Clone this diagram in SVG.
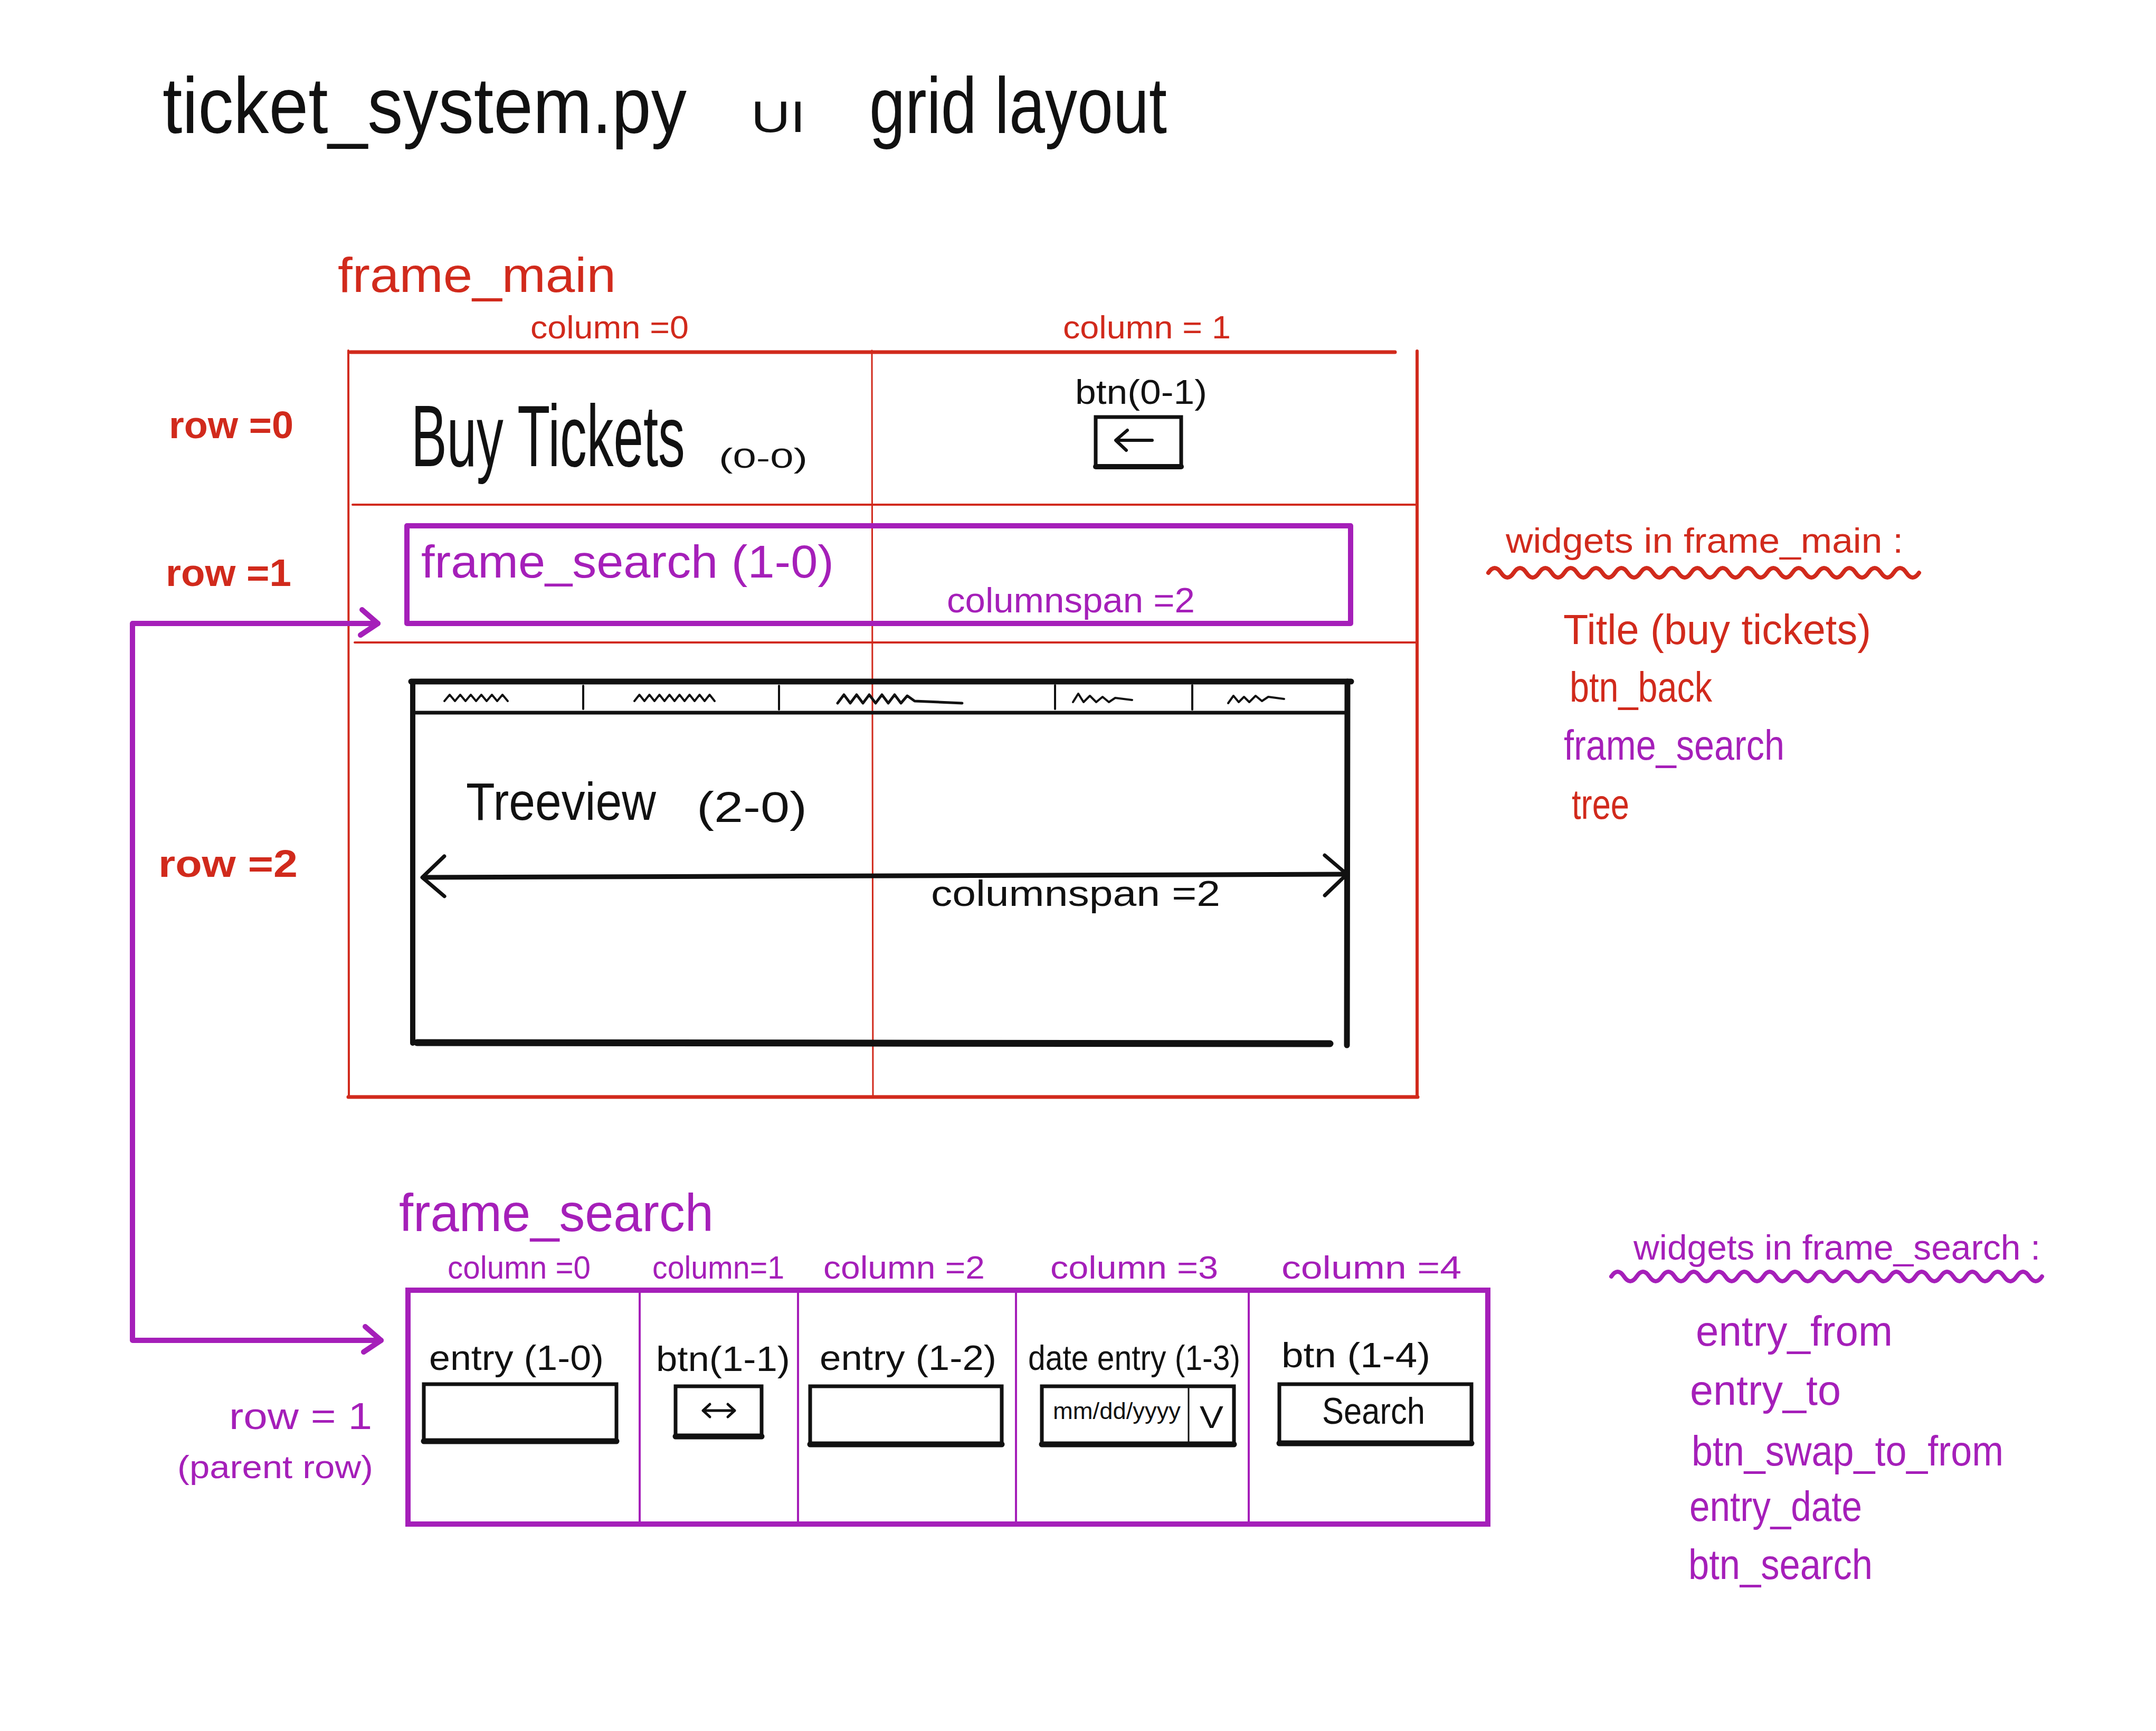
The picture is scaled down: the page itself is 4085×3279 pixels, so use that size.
<svg xmlns="http://www.w3.org/2000/svg" width="4085" height="3279" viewBox="0 0 4085 3279">
<style>
text{font-family:"Liberation Sans",Arial,sans-serif}
.r{fill:#d12a1c}
.p{fill:#a51fb9}
.k{fill:#111111}
.b{font-weight:bold}
.lr{stroke:#d12a1c;fill:none;stroke-linecap:round}
.lp{stroke:#a51fb9;fill:none;stroke-linecap:round;stroke-linejoin:round}
.lk{stroke:#111111;fill:none;stroke-linecap:round;stroke-linejoin:round}
</style>
<defs>
<marker id="chev-p" markerUnits="userSpaceOnUse" viewBox="-50 -40 60 80" refX="0" refY="0" markerWidth="60" markerHeight="80" orient="auto-start-reverse" overflow="visible">
<path d="M-30,-26 L0,0 L-33,22" fill="none" stroke="#a51fb9" stroke-width="10" stroke-linecap="round" stroke-linejoin="round"/>
</marker>
<marker id="chev-k" markerUnits="userSpaceOnUse" viewBox="-50 -55 60 110" refX="0" refY="0" markerWidth="60" markerHeight="110" orient="auto-start-reverse" overflow="visible">
<path d="M-42,-36 L0,0 L-42,40" fill="none" stroke="#111111" stroke-width="7" stroke-linecap="round" stroke-linejoin="round"/>
</marker>
</defs>
<rect x="0" y="0" width="4085" height="3279" fill="#ffffff"/>

<g id="title">
<text class="k" x="308" y="252" font-size="150" textLength="993" lengthAdjust="spacingAndGlyphs">ticket_system.py</text>
<text class="k" x="1423" y="250" font-size="84" textLength="103" lengthAdjust="spacingAndGlyphs">UI</text>
<text class="k" x="1647" y="252" font-size="150" textLength="564" lengthAdjust="spacingAndGlyphs">grid layout</text>
</g>

<g id="frame-main">
<text class="r" x="640" y="553" font-size="92" textLength="527" lengthAdjust="spacingAndGlyphs">frame_main</text>
<text class="r" x="1005" y="641" font-size="62" textLength="300" lengthAdjust="spacingAndGlyphs">column =0</text>
<text class="r" x="2014" y="641" font-size="62" textLength="318" lengthAdjust="spacingAndGlyphs">column = 1</text>
<line class="lr" x1="664" y1="667" x2="2643" y2="667" stroke-width="7"/>
<line class="lr" x1="660" y1="664" x2="661" y2="2078" stroke-width="4"/>
<line class="lr" x1="2685" y1="665" x2="2685" y2="2078" stroke-width="6"/>
<line class="lr" x1="660" y1="2078" x2="2686" y2="2078" stroke-width="7"/>
<line class="lr" x1="1652" y1="664" x2="1654" y2="2078" stroke-width="3"/>
<line class="lr" x1="668" y1="956" x2="2685" y2="956" stroke-width="4"/>
<line class="lr" x1="672" y1="1217" x2="2685" y2="1217" stroke-width="4"/>
<text class="r b" x="320" y="830" font-size="72" textLength="236" lengthAdjust="spacingAndGlyphs">row =0</text>
<text class="r b" x="314" y="1110" font-size="72" textLength="238" lengthAdjust="spacingAndGlyphs">row =1</text>
<text class="r b" x="300" y="1661" font-size="72" textLength="264" lengthAdjust="spacingAndGlyphs">row =2</text>
</g>

<g id="buy-tickets">
<text class="k" transform="translate(779 883) scale(0.615 1)" font-size="165">Buy Tickets</text>
<text class="k" x="1362" y="886" font-size="52" textLength="168" lengthAdjust="spacingAndGlyphs">(0-0)</text>
</g>

<g id="btn-back">
<text class="k" x="2037" y="765" font-size="64" textLength="250" lengthAdjust="spacingAndGlyphs">btn(0-1)</text>
<rect x="2076" y="790" width="162" height="94" fill="none" stroke="#111111" stroke-width="7"/>
<line class="lk" x1="2076" y1="884" x2="2238" y2="884" stroke-width="10"/>
<path class="lk" d="M2183 834 H2116 M2136 815 L2114 834 L2134 853" stroke-width="6"/>
</g>

<g id="frame-search-cell">
<rect x="771" y="996" width="1788" height="185" fill="none" stroke="#a51fb9" stroke-width="10" stroke-linejoin="round"/>
<text class="p" x="798" y="1094" font-size="88" textLength="782" lengthAdjust="spacingAndGlyphs">frame_search (1-0)</text>
<text class="p" x="1794" y="1160" font-size="66" textLength="470" lengthAdjust="spacingAndGlyphs">columnspan =2</text>
</g>

<g id="treeview">
<line class="lk" x1="779" y1="1291" x2="2560" y2="1291" stroke-width="11"/>
<line class="lk" x1="788" y1="1350" x2="2552" y2="1350" stroke-width="7"/>
<line class="lk" x1="782" y1="1291" x2="782" y2="1976" stroke-width="10"/>
<line class="lk" x1="2553" y1="1291" x2="2552" y2="1980" stroke-width="11"/>
<line class="lk" x1="790" y1="1975" x2="2520" y2="1977" stroke-width="13"/>
<path class="lk" d="M1105 1299 V1343 M1476 1299 V1344 M1999 1298 V1343 M2259 1298 V1344" stroke-width="4"/>
<path class="lk" stroke-width="4" d="M842 1328 l10 -12 l10 12 l10 -12 l10 12 l10 -12 l10 12 l10 -12 l10 12 l10 -12 l10 12 l10 -12 l10 12"/>
<path class="lk" stroke-width="4" d="M1202 1328 l9.5 -12 l9.5 12 l9.5 -12 l9.5 12 l9.5 -12 l9.5 12 l9.5 -12 l9.5 12 l9.5 -12 l9.5 12 l9.5 -12 l9.5 12 l9.5 -12 l9.5 12 l9.5 -12 l9.5 12"/>
<path class="lk" stroke-width="5" d="M1587 1332 l12 -16 l12 16 l12 -16 l12 16 l12 -16 l12 16 l12 -16 l12 16 l12 -16 l12 16 l12 -14 l14 10 l90 4"/>
<path class="lk" stroke-width="4" d="M2033 1330 l10 -16 l10 16 l12 -12 l12 12 l12 -10 l12 10 l12 -8 l32 4"/>
<path class="lk" stroke-width="4" d="M2327 1332 l10 -14 l10 12 l10 -10 l10 10 l12 -12 l12 10 l12 -8 l30 4"/>
<text class="k" x="883" y="1553" font-size="100" textLength="360" lengthAdjust="spacingAndGlyphs">Treeview</text>
<text class="k" x="1320" y="1557" font-size="82" textLength="209" lengthAdjust="spacingAndGlyphs">(2-0)</text>
<line x1="800" y1="1662" x2="2552" y2="1656" stroke="#111111" stroke-width="9" marker-start="url(#chev-k)" marker-end="url(#chev-k)"/>
<text class="k" x="1764" y="1716" font-size="68" textLength="548" lengthAdjust="spacingAndGlyphs">columnspan =2</text>
</g>

<g id="widgets-main-list">
<text class="r" x="2853" y="1047" font-size="66" textLength="753" lengthAdjust="spacingAndGlyphs">widgets in frame_main :</text>
<path class="lr" stroke-width="8" d="M2820 1085 q12 -18 24 0 t24 0 t24 0 t24 0 t24 0 t24 0 t24 0 t24 0 t24 0 t24 0 t24 0 t24 0 t24 0 t24 0 t24 0 t24 0 t24 0 t24 0 t24 0 t24 0 t24 0 t24 0 t24 0 t24 0 t24 0 t24 0 t24 0 t24 0 t24 0 t24 0 t24 0 t24 0 t24 0 t24 0"/>
<text class="r" x="2962" y="1220" font-size="80" textLength="583" lengthAdjust="spacingAndGlyphs">Title (buy tickets)</text>
<text class="r" x="2974" y="1329" font-size="80" textLength="270" lengthAdjust="spacingAndGlyphs">btn_back</text>
<text class="p" x="2963" y="1439" font-size="80" textLength="418" lengthAdjust="spacingAndGlyphs">frame_search</text>
<text class="r" x="2978" y="1551" font-size="80" textLength="109" lengthAdjust="spacingAndGlyphs">tree</text>
</g>

<g id="frame-search">
<text class="p" x="756" y="2332" font-size="100" textLength="596" lengthAdjust="spacingAndGlyphs">frame_search</text>
<text class="p" x="848" y="2422" font-size="62" textLength="271" lengthAdjust="spacingAndGlyphs">column =0</text>
<text class="p" x="1236" y="2422" font-size="62" textLength="250" lengthAdjust="spacingAndGlyphs">column=1</text>
<text class="p" x="1560" y="2422" font-size="62" textLength="306" lengthAdjust="spacingAndGlyphs">column =2</text>
<text class="p" x="1990" y="2422" font-size="62" textLength="318" lengthAdjust="spacingAndGlyphs">column =3</text>
<text class="p" x="2428" y="2422" font-size="62" textLength="341" lengthAdjust="spacingAndGlyphs">column =4</text>
<rect x="773" y="2444" width="2046" height="443" fill="none" stroke="#a51fb9" stroke-width="10"/>
<path class="lp" d="M1212 2444 V2887 M1512 2444 V2887 M1925 2444 V2887 M2366 2444 V2887" stroke-width="4"/>
</g>

<g id="entry-from">
<text class="k" x="813" y="2595" font-size="66" textLength="331" lengthAdjust="spacingAndGlyphs">entry (1-0)</text>
<rect x="803" y="2622" width="365" height="108" fill="none" stroke="#111111" stroke-width="7"/>
<line class="lk" x1="803" y1="2730" x2="1168" y2="2730" stroke-width="11"/>
</g>

<g id="btn-swap">
<text class="k" x="1243" y="2597" font-size="66" textLength="254" lengthAdjust="spacingAndGlyphs">btn(1-1)</text>
<rect x="1280" y="2626" width="163" height="95" fill="none" stroke="#111111" stroke-width="7"/>
<line class="lk" x1="1280" y1="2721" x2="1443" y2="2721" stroke-width="11"/>
<path class="lk" d="M1332 2672 H1392 M1345 2660 L1332 2672 L1345 2684 M1379 2660 L1392 2672 L1379 2684" stroke-width="5"/>
</g>

<g id="entry-to">
<text class="k" x="1553" y="2595" font-size="66" textLength="335" lengthAdjust="spacingAndGlyphs">entry (1-2)</text>
<rect x="1535" y="2626" width="363" height="110" fill="none" stroke="#111111" stroke-width="7"/>
<line class="lk" x1="1535" y1="2736" x2="1898" y2="2736" stroke-width="11"/>
</g>

<g id="date-entry">
<text class="k" x="1948" y="2595" font-size="66" textLength="402" lengthAdjust="spacingAndGlyphs">date entry (1-3)</text>
<rect x="1974" y="2626" width="364" height="110" fill="none" stroke="#111111" stroke-width="7"/>
<line class="lk" x1="1974" y1="2736" x2="2338" y2="2736" stroke-width="11"/>
<line class="lk" x1="2252" y1="2630" x2="2252" y2="2732" stroke-width="3"/>
<text class="k" x="1995" y="2688" font-size="45" textLength="242" lengthAdjust="spacingAndGlyphs">mm/dd/yyyy</text>
<text class="k" x="2273" y="2705" font-size="60" textLength="45" lengthAdjust="spacingAndGlyphs">V</text>
</g>

<g id="btn-search">
<text class="k" x="2428" y="2590" font-size="66" textLength="282" lengthAdjust="spacingAndGlyphs">btn (1-4)</text>
<rect x="2424" y="2622" width="364" height="112" fill="none" stroke="#111111" stroke-width="7"/>
<line class="lk" x1="2424" y1="2734" x2="2788" y2="2734" stroke-width="11"/>
<text class="k" x="2505" y="2697" font-size="70" textLength="195" lengthAdjust="spacingAndGlyphs">Search</text>
</g>

<g id="widgets-search-list">
<text class="p" x="3095" y="2386" font-size="66" textLength="771" lengthAdjust="spacingAndGlyphs">widgets in frame_search :</text>
<path class="lp" stroke-width="8" d="M3053 2418 q12 -18 24 0 t24 0 t24 0 t24 0 t24 0 t24 0 t24 0 t24 0 t24 0 t24 0 t24 0 t24 0 t24 0 t24 0 t24 0 t24 0 t24 0 t24 0 t24 0 t24 0 t24 0 t24 0 t24 0 t24 0 t24 0 t24 0 t24 0 t24 0 t24 0 t24 0 t24 0 t24 0 t24 0 t24 0"/>
<text class="p" x="3213" y="2549" font-size="80" textLength="373" lengthAdjust="spacingAndGlyphs">entry_from</text>
<text class="p" x="3202" y="2661" font-size="80" textLength="286" lengthAdjust="spacingAndGlyphs">entry_to</text>
<text class="p" x="3205" y="2776" font-size="80" textLength="591" lengthAdjust="spacingAndGlyphs">btn_swap_to_from</text>
<text class="p" x="3201" y="2881" font-size="80" textLength="327" lengthAdjust="spacingAndGlyphs">entry_date</text>
<text class="p" x="3199" y="2991" font-size="80" textLength="349" lengthAdjust="spacingAndGlyphs">btn_search</text>
</g>

<g id="parent-row">
<text class="p" x="434" y="2707" font-size="70" textLength="271" lengthAdjust="spacingAndGlyphs">row = 1</text>
<text class="p" x="336" y="2800" font-size="62" textLength="371" lengthAdjust="spacingAndGlyphs">(parent row)</text>
</g>

<g id="connectors">
<path class="lp" d="M716 1181 H251 V2539 H722" stroke-width="10" marker-start="url(#chev-p)" marker-end="url(#chev-p)"/>
</g>
</svg>
